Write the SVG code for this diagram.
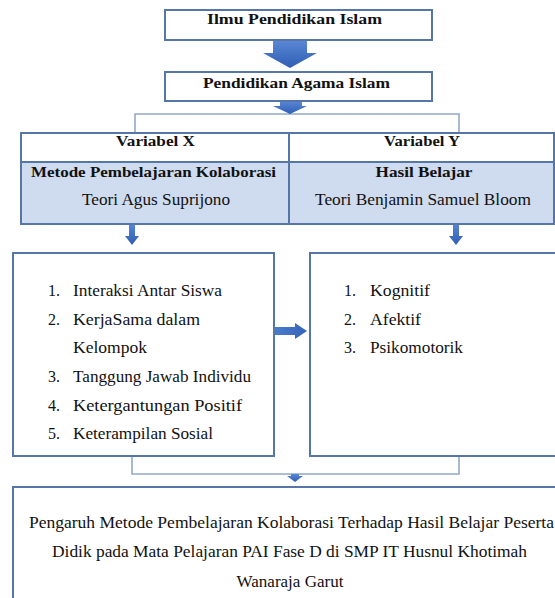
<svg xmlns="http://www.w3.org/2000/svg" width="555" height="598" viewBox="0 0 555 598">
<defs>
<linearGradient id="ag" x1="0" y1="0" x2="0" y2="1"><stop offset="0" stop-color="#5a88d6"/><stop offset="1" stop-color="#2f5eb3"/></linearGradient>
<linearGradient id="agh" x1="0" y1="0" x2="1" y2="0"><stop offset="0" stop-color="#4a7ccc"/><stop offset="1" stop-color="#3563b8"/></linearGradient>
</defs>
<style>
.box{fill:#ffffff;stroke:#5676a8;stroke-width:2}
.fill{fill:#cfdbee;stroke:#5676a8;stroke-width:2}
.ln{fill:none;stroke:#5676a8;stroke-width:2}
.br{fill:none;stroke:#93a8c8;stroke-width:1.6}
.b{font-family:"Liberation Serif","Times New Roman",serif;font-weight:bold;font-size:15.5px;fill:#111}
.r{font-family:"Liberation Serif","Times New Roman",serif;font-size:16px;fill:#111}
</style>
<rect width="555" height="598" fill="#ffffff"/>
<g id="connectors">
<polyline class="br" points="135,133 135,114 459,114 459,133"/>
<polyline class="br" points="132,456 132,474 459,474 459,456"/>
<path d="M273,40 H307 V53 H317 L290,68 L263,53 H273 Z" fill="url(#ag)"/>
<path d="M280,101 H302 V106 H307 L290,114 L273,106 H280 Z" fill="url(#ag)"/>
<path d="M129,223 H135 V236 H139 L132,245 L125,236 H129 Z" fill="url(#ag)"/>
<path d="M453,223 H459 V236 H463 L456,245 L449,236 H453 Z" fill="url(#ag)"/>
<path d="M275,327 H295 V323 L307,331 L295,339 V335 H275 Z" fill="url(#agh)"/>
<path d="M291,474 H299 V476 H303 L295,482 L287,476 H291 Z" fill="url(#ag)"/>
</g>
<g id="node-ilmu">
<rect class="box" x="165" y="10" width="267" height="30"/>
<text class="b" x="294.5" y="23.5" text-anchor="middle" textLength="175" lengthAdjust="spacingAndGlyphs">Ilmu Pendidikan Islam</text>
</g>
<g id="node-pai">
<rect class="box" x="165" y="72" width="267" height="29"/>
<text class="b" x="296.5" y="88" text-anchor="middle" textLength="187" lengthAdjust="spacingAndGlyphs">Pendidikan Agama Islam</text>
</g>
<g id="node-variabel">
<rect class="box" x="21" y="133" width="533" height="29"/>
<rect class="fill" x="21" y="162" width="533" height="62"/>
<line class="ln" x1="289" y1="133" x2="289" y2="224"/>
<text class="b" x="155.5" y="146" text-anchor="middle" textLength="79" lengthAdjust="spacingAndGlyphs">Variabel X</text>
<text class="b" x="422" y="146" text-anchor="middle" textLength="76" lengthAdjust="spacingAndGlyphs">Variabel Y</text>
<text class="b" x="153.5" y="177" text-anchor="middle" textLength="245" lengthAdjust="spacingAndGlyphs">Metode Pembelajaran Kolaborasi</text>
<text class="b" x="424" y="177" text-anchor="middle" textLength="97" lengthAdjust="spacingAndGlyphs">Hasil Belajar</text>
<text class="r" x="156" y="205" text-anchor="middle" textLength="148" lengthAdjust="spacingAndGlyphs">Teori Agus Suprijono</text>
<text class="r" x="423" y="205" text-anchor="middle" textLength="216" lengthAdjust="spacingAndGlyphs">Teori Benjamin Samuel Bloom</text>
</g>
<g id="node-x-list">
<rect class="box" x="13" y="253" width="261" height="203"/>
<text class="r" x="48" y="296">1.</text><text class="r" x="73" y="296" textLength="149" lengthAdjust="spacingAndGlyphs">Interaksi Antar Siswa</text>
<text class="r" x="48" y="325">2.</text><text class="r" x="73" y="325" textLength="127" lengthAdjust="spacingAndGlyphs">KerjaSama dalam</text>
<text class="r" x="73" y="353" textLength="74" lengthAdjust="spacingAndGlyphs">Kelompok</text>
<text class="r" x="48" y="382">3.</text><text class="r" x="73" y="382" textLength="178" lengthAdjust="spacingAndGlyphs">Tanggung Jawab Individu</text>
<text class="r" x="48" y="411">4.</text><text class="r" x="73" y="411" textLength="169" lengthAdjust="spacingAndGlyphs">Ketergantungan Positif</text>
<text class="r" x="48" y="439">5.</text><text class="r" x="73" y="439" textLength="140" lengthAdjust="spacingAndGlyphs">Keterampilan Sosial</text>
</g>
<g id="node-y-list">
<rect class="box" x="310" y="253" width="260" height="203"/>
<text class="r" x="344" y="296">1.</text><text class="r" x="370" y="296" textLength="60" lengthAdjust="spacingAndGlyphs">Kognitif</text>
<text class="r" x="344" y="325">2.</text><text class="r" x="370" y="325" textLength="51" lengthAdjust="spacingAndGlyphs">Afektif</text>
<text class="r" x="344" y="353">3.</text><text class="r" x="370" y="353" textLength="93" lengthAdjust="spacingAndGlyphs">Psikomotorik</text>
</g>
<g id="node-judul">
<rect class="box" x="13" y="487" width="560" height="120"/>
<text class="r" x="291.5" y="528" text-anchor="middle" textLength="525" lengthAdjust="spacingAndGlyphs">Pengaruh Metode Pembelajaran Kolaborasi Terhadap Hasil Belajar Peserta</text>
<text class="r" x="289.5" y="557" text-anchor="middle" textLength="475" lengthAdjust="spacingAndGlyphs">Didik pada Mata Pelajaran PAI Fase D di SMP IT Husnul Khotimah</text>
<text class="r" x="290" y="587" text-anchor="middle" textLength="107" lengthAdjust="spacingAndGlyphs">Wanaraja Garut</text>
</g>
</svg>
